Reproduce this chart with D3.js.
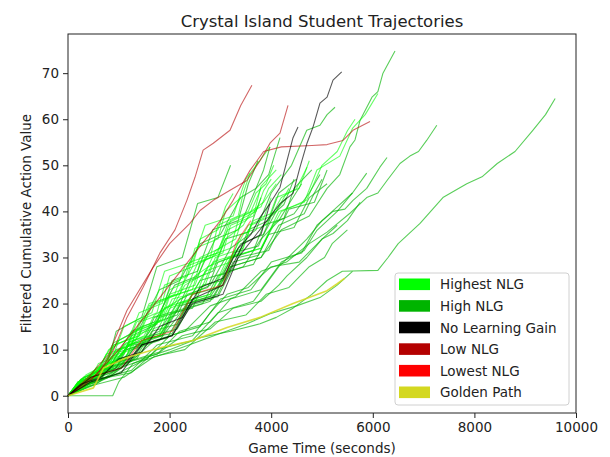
<!DOCTYPE html>
<html>
<head>
<meta charset="utf-8">
<script src="https://cdn.jsdelivr.net/npm/d3@7"></script>
<style>
  body { margin: 0; background: #fff; }
  svg { font-family: "DejaVu Sans", sans-serif; }
</style>
</head>
<body>
<svg width="610" height="457"></svg>
<script>
// trajectories: [game time (s), filtered cumulative action value]
var highestNLG = [
  [[0,0],[200,1],[450,4.5],[700,6],[1000,10],[1250,11.5],[1400,13],[1750,16],[1900,19],[2300,21.5],[2500,26],[2900,29],[3100,34],[3450,37],[3600,40],[3850,42],[4100,46]],
  [[0,0],[300,2.5],[500,5],[900,7.5],[1100,11],[1500,13],[1700,17.5],[2100,20],[2300,24],[2700,26.5],[2900,31.5],[3300,34],[3450,39],[3800,41],[3950,45],[4200,48]],
  [[0,0],[250,3],[650,5.5],[850,9],[1250,11],[1400,16],[1800,17.5],[2000,23],[2400,25],[2600,30],[3000,32],[3200,38],[3550,40],[3700,44],[3900,46],[4050,50]],
  [[0,0],[200,3],[650,5],[900,11],[1400,13],[1650,19.5],[2150,22],[2450,28],[2900,30.5],[3150,36],[3500,38],[3750,41]],
  [[0,0],[350,2],[600,6],[1150,8.5],[1350,14],[1900,16.5],[2150,22],[2700,24],[2900,30],[3450,32],[3600,37],[4000,39],[4200,43],[4500,45],[4705,49.6]],
  [[0,0],[400,3],[600,7],[1100,9],[1300,14],[1800,16],[2000,22],[2500,24],[2700,30],[3200,32],[3350,38],[3700,40],[3850,44.5],[4000,47]],
  [[0,0],[250,3.5],[600,5.5],[800,10],[1200,12.5],[1400,18],[1850,20],[2000,26],[2450,28],[2600,34],[2950,36],[3100,41],[3250,43.9]],
  [[0,0],[400,2],[650,5.5],[1100,7.5],[1300,12],[1800,13.5],[2000,19],[2500,21],[2700,27],[3200,29],[3400,35],[3900,37],[4100,43],[4550,45],[4750,51]],
  [[0,0],[250,3.5],[700,6],[900,11],[1400,13],[1600,19.5],[2100,22],[2300,28],[2800,30],[2950,37],[3350,39],[3450,44],[3583,48.3]],
  [[0,0],[200,3],[600,6],[900,11.5],[1350,14],[1600,20],[2200,22],[2400,29],[2950,31],[3150,37.5],[3600,40],[3800,45]],
  [[0,0],[250,3],[650,4.5],[850,8.5],[1250,10],[1450,15],[1850,16.5],[2000,21.5],[2450,23],[2600,29],[3050,31],[3200,37],[3650,39],[3800,45.5],[4100,49]],
  [[0,0],[250,2],[550,6],[1000,8],[1300,13],[1800,15],[2050,21],[2600,22.5],[2850,29],[3400,31],[3650,38],[4100,40],[4350,45]],
  [[0,0],[200,3],[550,4.5],[750,9],[1150,10.5],[1350,16],[1750,18],[1900,24],[2350,26],[2500,32],[2950,34],[3100,40],[3400,43]],
  [[0,0],[200,2],[500,5],[800,7],[1150,11.5],[1550,13],[1900,19],[2400,21],[2750,28],[3200,30],[3550,37],[3850,38.5],[4000,43]],
  [[0,0],[350,4.5],[850,7.5],[1100,15],[1650,18],[1900,27],[2450,29],[2700,37],[3250,39],[3500,47],[3976,54]],
  [[0,0],[250,2.5],[800,6],[1200,11],[1800,13],[2150,20],[2800,22],[3150,30],[3800,32],[4150,40],[4650,42],[4900,49],[5350,52],[5600,58],[5850,61],[6100,65.6]],
  [[0,0],[300,3],[850,5.5],[1200,11],[1800,13],[2200,20],[2800,22],[3200,30],[3800,32],[4200,40],[4700,42.5],[5000,50],[5300,53],[5500,57.5],[5650,60]]
];

var highNLG = [
  [[0,0],[880,0],[1000,3],[1280,7],[1600,8.5],[2000,10],[2600,12.6],[3200,14],[3780,15.6],[4100,17],[4430,19],[4800,22],[5100,25],[5400,27],[6100,27.2],[6300,30],[6500,33],[6930,37.4],[7380,43],[7850,46],[8150,47.5],[8450,50.4],[8800,53],[9150,57.6],[9400,61],[9590,64.5]],
  [[0,0],[350,2],[700,5.5],[1250,7.5],[1700,12],[2300,14],[2800,19.5],[3300,21.5],[3800,27],[4300,29],[4750,33],[5100,35.5],[5550,39.6],[5880,43],[6100,44],[6280,46.7],[6535,50.4],[6730,52],[6900,53],[7060,55.4],[7260,58.7]],
  [[0,0],[300,3],[800,5.5],[1200,11],[1800,13],[2200,19.5],[2800,21.5],[3200,28],[3800,30],[4200,36],[4750,39],[5100,45],[5350,48],[5550,54],[5650,55.5],[5750,59.8],[5984,64.8],[6100,66],[6200,70],[6437,74.8]],
  [[0,0],[550,2.5],[1000,6],[1550,8],[2000,13],[2600,15],[3000,21],[3600,23],[4000,29],[4600,31],[4900,37],[5217,40],[5450,40.5],[5610,42.4],[5880,45],[6140,49.6],[6280,51.7]],
  [[0,0],[300,3],[800,6],[1200,11],[1800,14],[2200,21],[2800,24],[3200,32],[3700,36],[4000,44],[4400,50],[4700,57.6],[4960,58.7],[5100,61],[5256,62.6]],
  [[0,0],[550,3.5],[1250,5],[1750,10],[2450,12],[2950,18],[3650,20.5],[4150,28],[4700,34],[5000,38],[5300,41],[5600,44]],
  [[0,0],[300,2],[800,4],[1200,7.5],[1800,9.5],[2200,14],[2800,16],[3200,21],[3800,23],[4200,29],[4650,31.5],[4900,35.9],[5300,40],[5600,44],[5880,48.3]],
  [[0,0],[550,3.5],[1250,5.5],[1750,11],[2450,13],[2800,18],[3130,22],[3550,23.5],[4000,28],[4550,29],[5000,34],[5217,35.2],[5500,38],[5750,42]],
  [[0,0],[400,2],[1100,4],[1700,8.5],[2300,10],[2900,16],[3500,17.5],[3900,22],[4350,23.5],[4750,28],[5050,30],[5200,33],[5500,36]],
  [[0,0],[250,3.5],[750,6],[950,14],[1450,17],[1750,28],[2250,30],[2550,41.7],[2950,43],[3200,50]],
  [[0,0],[200,2.5],[600,5.5],[1000,12],[1400,14.5],[1800,23],[2200,25],[2600,33],[3000,35],[3400,43],[3700,45],[3850,49],[3976,54]],
  [[0,0],[350,3.5],[950,6],[1250,13],[1750,15.5],[2050,25],[2550,27],[2850,36],[3350,38],[3550,46],[3740,51]],
  [[0,0],[300,4],[800,6],[1250,14],[1700,16],[2100,24],[2550,26],[2900,34],[3350,36],[3700,45],[3950,48],[4173,56]],
  [[0,0],[600,3],[1000,5],[1476,7.6],[2000,9.5],[2500,11.5],[2992,13.5],[3500,15.5],[3976,17.8],[4500,19.5],[4960,21.3],[5300,24],[5600,27]],
  [[0,0],[350,2.5],[800,4],[1250,7.5],[1750,9],[2250,13],[2800,14.5],[3250,19],[3800,20.5],[4150,24],[4311,26],[4700,30],[5000,34],[5300,37]],
  [[0,0],[350,2.5],[550,4],[950,6],[1150,10],[1550,11.5],[1750,16],[2150,17.5],[2350,22],[2750,23.5],[2950,29],[3350,30.5],[3550,36],[3950,38],[4150,44],[4500,47]],
  [[0,0],[250,2],[550,4.5],[1050,6.5],[1350,11],[1850,13],[2150,18.5],[2650,20],[2950,26],[3450,28],[3800,34],[4150,38],[4370,42],[4600,46]],
  [[0,0],[450,3.5],[750,6],[1250,7.5],[1550,12.5],[2050,13.5],[2350,19.5],[2850,21],[3150,27],[3650,28.5],[3950,35],[4450,36.5],[4750,43],[5100,46]],
  [[0,0],[200,3],[650,5],[950,10],[1450,11.5],[1800,17],[2250,18.5],[2600,25],[3050,26.5],[3400,33],[3850,35],[4150,41],[4300,43]],
  [[0,0],[350,2.5],[650,3.5],[850,7],[1250,8],[1450,12],[1850,13],[2050,18],[2450,19],[2650,24],[3050,25],[3250,30],[3650,31.5],[3850,37],[4250,38.5],[4450,45],[4800,49]],
  [[0,0],[350,3],[850,5],[1250,10],[1800,12],[2250,18.5],[2800,20.5],[3200,28],[3800,30],[4150,37],[4650,39.5],[4850,44],[5000,47]],
  [[0,0],[300,3.5],[750,5],[1000,9.5],[1450,11],[1700,17],[2150,18.5],[2400,25],[2850,27],[3100,34],[3550,35.5],[3800,43]],
  [[0,0],[200,1.5],[550,3],[900,6.5],[1350,8],[1650,13],[2150,14.5],[2450,20.5],[2950,22],[3250,29],[3750,30.5],[4050,37.5],[4450,39.5],[4750,44],[4960,48]],
  [[0,0],[450,3.5],[950,5.5],[1350,11],[1950,12.5],[2350,20],[2950,21.5],[3350,30],[3950,31.5],[4350,40.5],[4850,42],[5100,49]],
  [[0,0],[200,2],[550,3],[850,7],[1350,8.5],[1650,14],[2150,15.5],[2450,22],[2950,23.5],[3250,31],[3750,32.5],[4000,39],[4250,41.5],[4450,47]]
];

var noGain = [
  [[0,0],[450,4],[1050,6],[1450,11],[2050,13],[2450,20],[3050,22],[3350,30],[3720,35.2],[3917,38],[4173,41.7],[4430,43.9],[4567,49.6],[4705,54.8],[4823,58.3],[4960,63.5],[5100,64.8],[5217,68.5],[5388,70.3]],
  [[0,0],[250,2.5],[650,4],[1000,8],[1450,9.5],[1800,15],[2250,17],[2600,23.5],[3050,25.5],[3350,32],[3600,35],[3780,38.7],[3976,41.7],[4173,45.2],[4311,51],[4430,56],[4528,58.3]],
  [[0,0],[450,3],[1050,5],[1450,11],[2050,13],[2450,21],[3050,24],[3450,33],[3800,35],[3976,41.7]]
];

var lowNLG = [
  [[0,0],[300,2],[600,5],[900,10],[1160,17],[1476,23.5],[1811,31],[2106,36],[2340,42.4],[2500,47.4],[2660,53.3],[2860,54.8],[3189,57.6],[3400,63],[3620,67.4]],
  [[0,0],[400,4],[800,9],[1160,18.5],[1673,27.8],[2000,33],[2400,37.4],[2600,40.2],[2860,42.4],[3190,44.6],[3520,46.7],[3780,51],[3976,54.8],[4173,57],[4331,63]],
  [[0,0],[500,4],[1000,10],[1500,17],[2000,24],[2500,31],[3000,38],[3250,42.4],[3583,48.9],[3720,51],[3850,53],[4200,54],[4800,54.3],[5100,54.5],[5413,55.4],[5610,57.6],[5945,59.5]]
];

var lowestNLG = [
  [[0,0],[450,4],[1050,6],[1450,12],[2050,14],[2450,22],[3050,24],[3300,33],[3600,38]]
];

var goldenPath = [
  [[0,0],[500,1.7],[700,6],[1160,8.3],[1811,10.4],[2460,12],[3130,14.8],[3780,17],[4430,20],[5100,22.8],[5300,24.3],[5450,25.5]]
];

var xTicks = [0, 2000, 4000, 6000, 8000, 10000];
var yTicks = [0, 10, 20, 30, 40, 50, 60, 70];
var legendLabels = ["Highest NLG", "High NLG", "No Learning Gain", "Low NLG", "Lowest NLG", "Golden Path"];

var colors = {
  "Highest NLG": "#00ff00",
  "High NLG": "#00b400",
  "No Learning Gain": "#000000",
  "Low NLG": "#b40000",
  "Lowest NLG": "#ff0000",
  "Golden Path": "#d4d820"
};

var svg = d3.select("svg");

var x = d3.scaleLinear()
          .domain([0, 10000])
          .range([68, 576]);

var y = d3.scaleLinear()
          .domain([-3.75, 78.5])
          .range([413, 34]);

var line = d3.line()
             .x(d => x(d[0]))
             .y(d => y(d[1]));

var g = svg.append("g");

function drawGroup(data, name, opacity, width){
  g.selectAll(".l" + name.replace(/ /g, ""))
    .data(data)
    .enter().append("path")
      .attr("d", line)
      .attr("fill", "none")
      .attr("stroke", colors[name])
      .attr("stroke-width", width)
      .attr("stroke-opacity", opacity)
      .attr("stroke-linejoin", "round");
}

drawGroup(highNLG, "High NLG", 0.65, 1.1);
drawGroup(highestNLG, "Highest NLG", 0.6, 1.1);
drawGroup(lowestNLG, "Lowest NLG", 0.5, 1.1);
drawGroup(lowNLG, "Low NLG", 0.6, 1.1);
drawGroup(noGain, "No Learning Gain", 0.65, 1.1);
drawGroup(goldenPath, "Golden Path", 0.85, 1.6);

// axes
var xAxis = svg.append("g")
  .attr("transform", "translate(0,413)")
  .call(d3.axisBottom(x).tickValues(xTicks).tickSize(5).tickPadding(4).tickFormat(d3.format("d")));

var yAxis = svg.append("g")
  .attr("transform", "translate(68,0)")
  .call(d3.axisLeft(y).tickValues(yTicks).tickSize(5).tickPadding(4));

[xAxis, yAxis].forEach(a => {
  a.select(".domain").remove();
  a.selectAll("line").attr("stroke", "#222");
  a.selectAll("text").attr("fill", "#222").style("font-size", "13.5px").style("font-family", "DejaVu Sans");
});

svg.append("rect")
  .attr("x", 68).attr("y", 34)
  .attr("width", 508).attr("height", 379)
  .attr("fill", "none")
  .attr("stroke", "#222")
  .attr("stroke-width", 1);

svg.append("text")
  .attr("x", 322).attr("y", 27)
  .attr("text-anchor", "middle")
  .style("font-size", "16.5px")
  .attr("fill", "#222")
  .text("Crystal Island Student Trajectories");

svg.append("text")
  .attr("x", 322).attr("y", 453)
  .attr("text-anchor", "middle")
  .style("font-size", "13.5px")
  .attr("fill", "#222")
  .text("Game Time (seconds)");

svg.append("text")
  .attr("transform", "translate(31,223.5) rotate(-90)")
  .attr("text-anchor", "middle")
  .style("font-size", "13.5px")
  .attr("fill", "#222")
  .text("Filtered Cumulative Action Value");

// legend
var legend = svg.append("g");

legend.append("rect")
  .attr("x", 395).attr("y", 273)
  .attr("width", 174).attr("height", 132)
  .attr("rx", 3)
  .attr("fill", "#fff").attr("fill-opacity", 0.8)
  .attr("stroke", "#d0d0d0");

var items = legend.selectAll(".item")
  .data(legendLabels)
  .enter().append("g")
    .attr("transform", (d, i) => "translate(0," + (284.3 + i * 21.6) + ")");

items.append("rect")
  .attr("x", 399).attr("y", -5.8)
  .attr("width", 31).attr("height", 11.6)
  .attr("fill", d => colors[d]);

items.append("text")
  .attr("x", 440).attr("y", 5)
  .style("font-size", "13.5px")
  .attr("fill", "#222")
  .text(d => d);
</script>
</body>
</html>
